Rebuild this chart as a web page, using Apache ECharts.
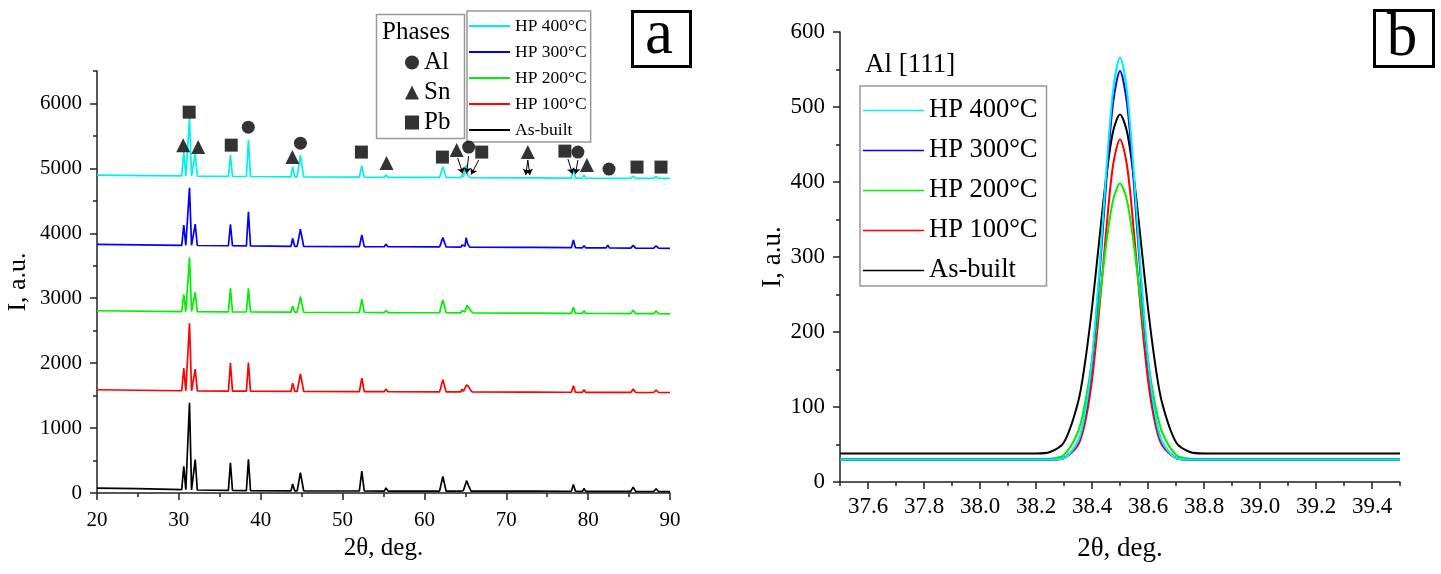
<!DOCTYPE html>
<html lang="en">
<head>
<meta charset="UTF-8">
<title>XRD patterns</title>
<script src="https://cdn.jsdelivr.net/npm/echarts@6.0.0/dist/echarts.min.js"></script>
<style>
  html, body { margin: 0; padding: 0; background: #fff; }
  #main { width: 1441px; height: 574px; }
</style>
</head>
<body>
<div id="main"></div>
<script>
// ---- panel a : full patterns, [2theta, I] ----
var seriesNames = ['HP 400°C', 'HP 300°C', 'HP 200°C', 'HP 100°C', 'As-built'];
var seriesColors = ['#00f0f0', '#0000ff', '#00f000', '#ff0000', '#000000'];

var asBuiltA = [[20,75],[25,66],[30.35,52],[30.6,410],[30.85,50],[31.05,50],[31.3,1390],[31.55,48],[31.75,48],[32.0,515],[32.25,46],[36.05,40],[36.3,464],[36.55,40],[38.25,38],[38.5,520],[38.75,38],[43.7,34],[43.9,140],[44.15,34],[44.45,34],[44.85,312],[45.25,33],[52.05,31],[52.35,338],[52.65,31],[55.1,30],[55.3,78],[55.55,30],[61.85,30],[62.25,255],[62.65,30],[64.45,30],[64.6,60],[64.75,35],[64.95,60],[65.15,190],[65.4,110],[65.7,30],[72.25,28],[72.45,45],[72.65,28],[73.0,28],[73.2,45],[73.4,28],[77.1,27],[77.3,40],[77.5,27],[77.95,27],[78.2,130],[78.45,27],[79.3,26],[79.5,70],[79.7,26],[82.2,25],[82.4,45],[82.6,25],[85.2,24],[85.5,90],[85.8,24],[88.0,23],[88.3,65],[88.6,23],[90,22]];

var hp100A = [[20,1590],[30.35,1575],[30.6,1923],[30.85,1575],[31.05,1575],[31.3,2615],[31.55,1575],[31.75,1575],[32.0,1907],[32.25,1573],[36.05,1570],[36.3,2000],[36.55,1570],[38.25,1568],[38.5,2010],[38.75,1568],[43.7,1566],[43.9,1692],[44.15,1566],[44.45,1566],[44.85,1835],[45.25,1565],[52.05,1562],[52.35,1769],[52.65,1562],[55.1,1560],[55.3,1600],[55.55,1560],[61.85,1558],[62.25,1743],[62.65,1558],[64.45,1557],[64.6,1600],[64.75,1565],[64.95,1580],[65.15,1666],[65.4,1640],[65.6,1590],[65.85,1556],[72.25,1553],[72.45,1568],[72.65,1553],[73.0,1553],[73.2,1568],[73.4,1553],[77.1,1552],[77.3,1575],[77.5,1552],[77.95,1552],[78.2,1651],[78.45,1552],[79.3,1551],[79.5,1590],[79.7,1551],[82.2,1550],[82.4,1575],[82.6,1550],[85.2,1549],[85.5,1600],[85.8,1549],[88.0,1548],[88.3,1585],[88.6,1548],[90,1548]];

var hp200A = [[20,2807],[30.35,2795],[30.6,3061],[30.85,2795],[31.05,2795],[31.3,3625],[31.55,2795],[31.75,2795],[32.0,3092],[32.25,2793],[36.05,2790],[36.3,3154],[36.55,2790],[38.25,2788],[38.5,3154],[38.75,2788],[43.7,2785],[43.9,2882],[44.15,2785],[44.45,2785],[44.85,3025],[45.25,2784],[52.05,2780],[52.35,2985],[52.65,2780],[55.1,2778],[55.3,2810],[55.55,2778],[61.85,2776],[62.25,2974],[62.65,2776],[64.45,2775],[64.6,2810],[64.75,2780],[64.95,2790],[65.2,2892],[65.45,2850],[65.7,2800],[65.95,2773],[72.25,2770],[72.45,2795],[72.65,2770],[73.0,2770],[73.2,2795],[73.4,2770],[77.95,2767],[78.2,2861],[78.45,2767],[79.3,2766],[79.5,2807],[79.7,2766],[82.2,2765],[82.4,2790],[82.6,2765],[85.2,2763],[85.5,2815],[85.8,2763],[88.0,2762],[88.3,2805],[88.6,2762],[90,2760]];

var hp300A = [[20,3830],[30.35,3815],[30.6,4128],[30.85,3815],[31.05,3815],[31.3,4700],[31.55,3815],[31.75,3815],[32.0,4143],[32.25,3812],[36.05,3808],[36.3,4138],[36.55,3808],[38.25,3805],[38.5,4333],[38.75,3805],[43.7,3800],[43.9,3923],[44.15,3800],[44.45,3800],[44.85,4062],[45.25,3798],[52.05,3795],[52.35,3974],[52.65,3795],[55.1,3793],[55.3,3830],[55.55,3793],[61.85,3790],[62.25,3933],[62.65,3790],[64.45,3788],[64.6,3820],[64.75,3792],[64.95,3800],[65.1,3933],[65.3,3830],[65.55,3786],[72.25,3783],[72.45,3810],[72.65,3783],[73.0,3783],[73.2,3810],[73.4,3783],[77.95,3778],[78.2,3897],[78.45,3778],[79.3,3777],[79.5,3810],[79.7,3777],[82.2,3775],[82.4,3815],[82.6,3775],[85.2,3772],[85.5,3815],[85.8,3772],[88.0,3770],[88.3,3805],[88.6,3770],[90,3769]];

var hp400A = [[20,4897],[30.35,4885],[30.6,5255],[30.85,4885],[31.05,4885],[31.3,5770],[31.55,4885],[31.75,4885],[32.0,5231],[32.25,4882],[36.05,4878],[36.3,5205],[36.55,4878],[38.25,4875],[38.5,5435],[38.75,4875],[43.7,4870],[43.9,5025],[44.15,4870],[44.45,4870],[44.85,5205],[45.25,4868],[52.05,4865],[52.35,5040],[52.65,4865],[55.1,4863],[55.3,4900],[55.55,4863],[61.85,4860],[62.25,5025],[62.65,4860],[64.45,4858],[64.6,4905],[64.75,4865],[64.95,4870],[65.1,5051],[65.3,4895],[65.55,4856],[72.25,4853],[72.45,4880],[72.65,4853],[73.0,4853],[73.2,4880],[73.4,4853],[77.95,4850],[78.2,5000],[78.45,4850],[79.3,4849],[79.5,4895],[79.7,4849],[82.2,4848],[82.4,4875],[82.6,4848],[85.2,4847],[85.5,4880],[85.8,4847],[88.0,4846],[88.3,4875],[88.6,4846],[90,4846]];

// phase markers above the HP 400 pattern
var alMarks = [[38.48,5635],[44.85,5389],[65.4,5328],[78.75,5251],[82.55,4989]];
var snMarks = [[30.53,5358],[32.36,5328],[43.87,5174],[55.37,5082],[63.94,5282],[72.63,5251],[79.85,5051]];
var pbMarks = [[31.26,5866],[36.4,5358],[52.3,5251],[62.2,5174],[67.0,5251],[77.16,5266],[85.97,5020],[88.9,5020]];
var arrowsA = [
  [[64.06,5160],[64.7,4920]],
  [[65.4,5189],[65.15,4920]],
  [[66.63,5128],[65.7,4905]],
  [[72.63,5128],[72.39,4900]],
  [[72.63,5128],[72.88,4900]],
  [[77.53,5143],[78.1,4912]],
  [[78.75,5128],[78.45,4912]]
];

// ---- panel b : Al [111] peak ----
var thetaB = [37.5, 38.0, 38.2, 38.25, 38.3, 38.35, 38.375, 38.4, 38.425, 38.45, 38.475, 38.5, 38.525, 38.55, 38.575, 38.6, 38.625, 38.65, 38.7, 38.75, 38.8, 39.0, 39.5];
var hp400B = [30,30,30,30,32,54,91,163,275,409,521,566,521,409,275,163,91,54,32,30,30,30,30];
var hp300B = [30,30,30,30,32,53,89,159,267,396,505,548,505,396,267,159,89,53,32,30,30,30,30];
var hp200B = [30,30,30,31,36,67,105,162,237,315,375,398,375,315,237,162,105,67,36,31,30,30,30];
var hp100B = [30,30,30,30,32,49,79,136,226,332,422,457,422,332,226,136,79,49,32,30,30,30,30];
var asBuiltB = [38,38,38,40,53,106,159,232,319,404,467,490,467,404,319,232,159,106,53,40,38,38,38];

// labelled tick positions
var ticksAy = [0, 1000, 2000, 3000, 4000, 5000, 6000];
var ticksBx = [37.6, 37.8, 38.0, 38.2, 38.4, 38.6, 38.8, 39.0, 39.2, 39.4];

var serif = 'Liberation Serif';
var axisCol = '#222';

function pairs(xs, ys) {
  var out = [];
  for (var i = 0; i < xs.length; i++) out.push([xs[i], ys[i]]);
  return out;
}

var patternsA = [hp400A, hp300A, hp200A, hp100A, asBuiltA];
var peaksB = [hp400B, hp300B, hp200B, hp100B, asBuiltB];

var series = [];
// black first so the coloured ones sit on top
for (var i = seriesNames.length - 1; i >= 0; i--) {
  series.push({
    name: seriesNames[i], type: 'line', xAxisIndex: 0, yAxisIndex: 0,
    data: patternsA[i], symbol: 'none', showSymbol: false, smooth: false,
    lineStyle: { color: seriesColors[i], width: 1.7 }, itemStyle: { color: seriesColors[i] }
  });
}
for (var j = seriesNames.length - 1; j >= 0; j--) {
  series.push({
    name: seriesNames[j], type: 'line', xAxisIndex: 1, yAxisIndex: 2,
    data: pairs(thetaB, peaksB[j]), symbol: 'none', showSymbol: false, smooth: 0.3,
    lineStyle: { color: seriesColors[j], width: 2 }, itemStyle: { color: seriesColors[j] }
  });
}
series.push(
  { name: 'Al', type: 'scatter', xAxisIndex: 0, yAxisIndex: 0, data: alMarks, symbol: 'circle', symbolSize: 13, itemStyle: { color: '#000' }, z: 5 },
  { name: 'Sn', type: 'scatter', xAxisIndex: 0, yAxisIndex: 0, data: snMarks, symbol: 'triangle', symbolSize: 14, itemStyle: { color: '#000' }, z: 5 },
  { name: 'Pb', type: 'scatter', xAxisIndex: 0, yAxisIndex: 0, data: pbMarks, symbol: 'rect', symbolSize: 13, itemStyle: { color: '#000' }, z: 5 },
  {
    type: 'lines', coordinateSystem: 'cartesian2d', xAxisIndex: 0, yAxisIndex: 0,
    data: arrowsA.map(function (c) { return { coords: c }; }),
    symbol: ['none', 'arrow'], symbolSize: 6,
    lineStyle: { color: '#000', width: 1, opacity: 1 }, z: 5
  }
);

var lineCol = { color: axisCol, width: 1.5 };

function tickLabel(size, margin, fmt) {
  return {
    fontSize: size, margin: margin, color: '#000', fontFamily: serif,
    formatter: fmt || function (v) { return String(v); }
  };
}

var labAy = tickLabel(21, 15); labAy.customValues = ticksAy;
var labBx = tickLabel(23, 13, function (v) { return v.toFixed(1); }); labBx.customValues = ticksBx;

var option = {
  animation: false,
  backgroundColor: '#fff',
  textStyle: { fontFamily: serif, color: '#000' },
  grid: [
    { left: 97, right: 771, top: 71, bottom: 81 },
    { left: 840, right: 41, top: 32, bottom: 92 }
  ],
  xAxis: [
    {
      gridIndex: 0, type: 'value', min: 20, max: 90, interval: 10, position: 'bottom',
      axisLine: { onZero: false, lineStyle: lineCol },
      axisTick: { length: 7, lineStyle: lineCol },
      minorTick: { show: true, splitNumber: 2, length: 4, lineStyle: lineCol },
      splitLine: { show: false },
      axisLabel: tickLabel(21, 17),
      name: '2θ, deg.', nameLocation: 'middle', nameGap: 42,
      nameTextStyle: { fontSize: 25, color: '#000', fontFamily: serif }
    },
    {
      gridIndex: 1, type: 'value', min: 37.5, max: 39.5, interval: 0.1, position: 'bottom',
      axisLine: { onZero: false, lineStyle: lineCol },
      axisTick: { length: 4, lineStyle: lineCol },
      splitLine: { show: false },
      axisLabel: { show: false }
    },
    {
      gridIndex: 1, type: 'value', min: 37.5, max: 39.5, position: 'bottom',
      axisLine: { show: false, onZero: false },
      axisTick: { show: true, length: 7, customValues: ticksBx, lineStyle: lineCol },
      splitLine: { show: false },
      axisLabel: labBx,
      name: '2θ, deg.', nameLocation: 'middle', nameGap: 53,
      nameTextStyle: { fontSize: 27, color: '#000', fontFamily: serif }
    }
  ],
  yAxis: [
    {
      gridIndex: 0, type: 'value', min: 0, max: 6500, interval: 500, position: 'left',
      axisLine: { show: true, onZero: false, lineStyle: lineCol },
      axisTick: { show: true, length: 4, lineStyle: lineCol },
      splitLine: { show: false },
      axisLabel: { show: false }
    },
    {
      gridIndex: 0, type: 'value', min: 0, max: 6500, position: 'left',
      axisLine: { show: false, onZero: false },
      axisTick: { show: true, length: 7, customValues: ticksAy, lineStyle: lineCol },
      splitLine: { show: false },
      axisLabel: labAy,
      name: 'I, a.u.', nameLocation: 'middle', nameGap: 66,
      nameTextStyle: { fontSize: 26, color: '#000', fontFamily: serif }
    },
    {
      gridIndex: 1, type: 'value', min: 0, max: 600, interval: 100, position: 'left',
      axisLine: { show: true, onZero: false, lineStyle: lineCol },
      axisTick: { length: 7, lineStyle: lineCol },
      minorTick: { show: true, splitNumber: 2, length: 4, lineStyle: lineCol },
      splitLine: { show: false },
      axisLabel: tickLabel(23, 15),
      name: 'I, a.u.', nameLocation: 'middle', nameGap: 52,
      nameTextStyle: { fontSize: 27, color: '#000', fontFamily: serif }
    }
  ],
  legend: [
    {
      data: seriesNames, orient: 'vertical', left: 467, top: 11,
      padding: [6, 4, 3, 2], itemGap: 8, itemWidth: 41, itemHeight: 2, icon: 'rect',
      borderColor: '#999', borderWidth: 1.5,
      textStyle: { fontSize: 17.5, color: '#000', fontFamily: serif },
      selectedMode: false
    },
    {
      data: ['Al', 'Sn', 'Pb'], orient: 'vertical', left: 405, top: 50,
      padding: 0, itemGap: 5, itemWidth: 14, itemHeight: 14,
      textStyle: { fontSize: 25, color: '#000', fontFamily: serif },
      selectedMode: false
    },
    {
      data: seriesNames, orient: 'vertical', left: 860, top: 86,
      padding: [11, 9, 2, 3], itemGap: 13, itemWidth: 61, itemHeight: 1.5, icon: 'rect',
      borderColor: '#999', borderWidth: 1.5,
      textStyle: { fontSize: 26.5, color: '#000', fontFamily: serif },
      selectedMode: false
    }
  ],
  graphic: [
    { type: 'rect', left: 374, top: 12, shape: { width: 88, height: 124 }, style: { fill: 'none', stroke: '#999', lineWidth: 1.5 } },
    { type: 'text', x: 416, y: 32, style: { text: 'Phases', fontSize: 25, fontFamily: serif, fill: '#000', textAlign: 'center', textVerticalAlign: 'middle' } },
    { type: 'rect', left: 630, top: 9, shape: { width: 58, height: 55 }, style: { fill: 'none', stroke: '#000', lineWidth: 3 } },
    { type: 'text', x: 659, y: 36, style: { text: 'a', fontSize: 63, fontFamily: serif, fill: '#000', textAlign: 'center', textVerticalAlign: 'middle' } },
    { type: 'rect', left: 1372, top: 8, shape: { width: 59, height: 56 }, style: { fill: 'none', stroke: '#000', lineWidth: 3 } },
    { type: 'text', x: 1402, y: 39, style: { text: 'b', fontSize: 61, fontFamily: serif, fill: '#000', textAlign: 'center', textVerticalAlign: 'middle' } },
    { type: 'text', x: 865, y: 65, style: { text: 'Al [111]', fontSize: 27, fontFamily: serif, fill: '#000', textAlign: 'left', textVerticalAlign: 'middle' } }
  ],
  series: series
};

var myChart = echarts.init(document.getElementById('main'));
myChart.setOption(option);
</script>
</body>
</html>
